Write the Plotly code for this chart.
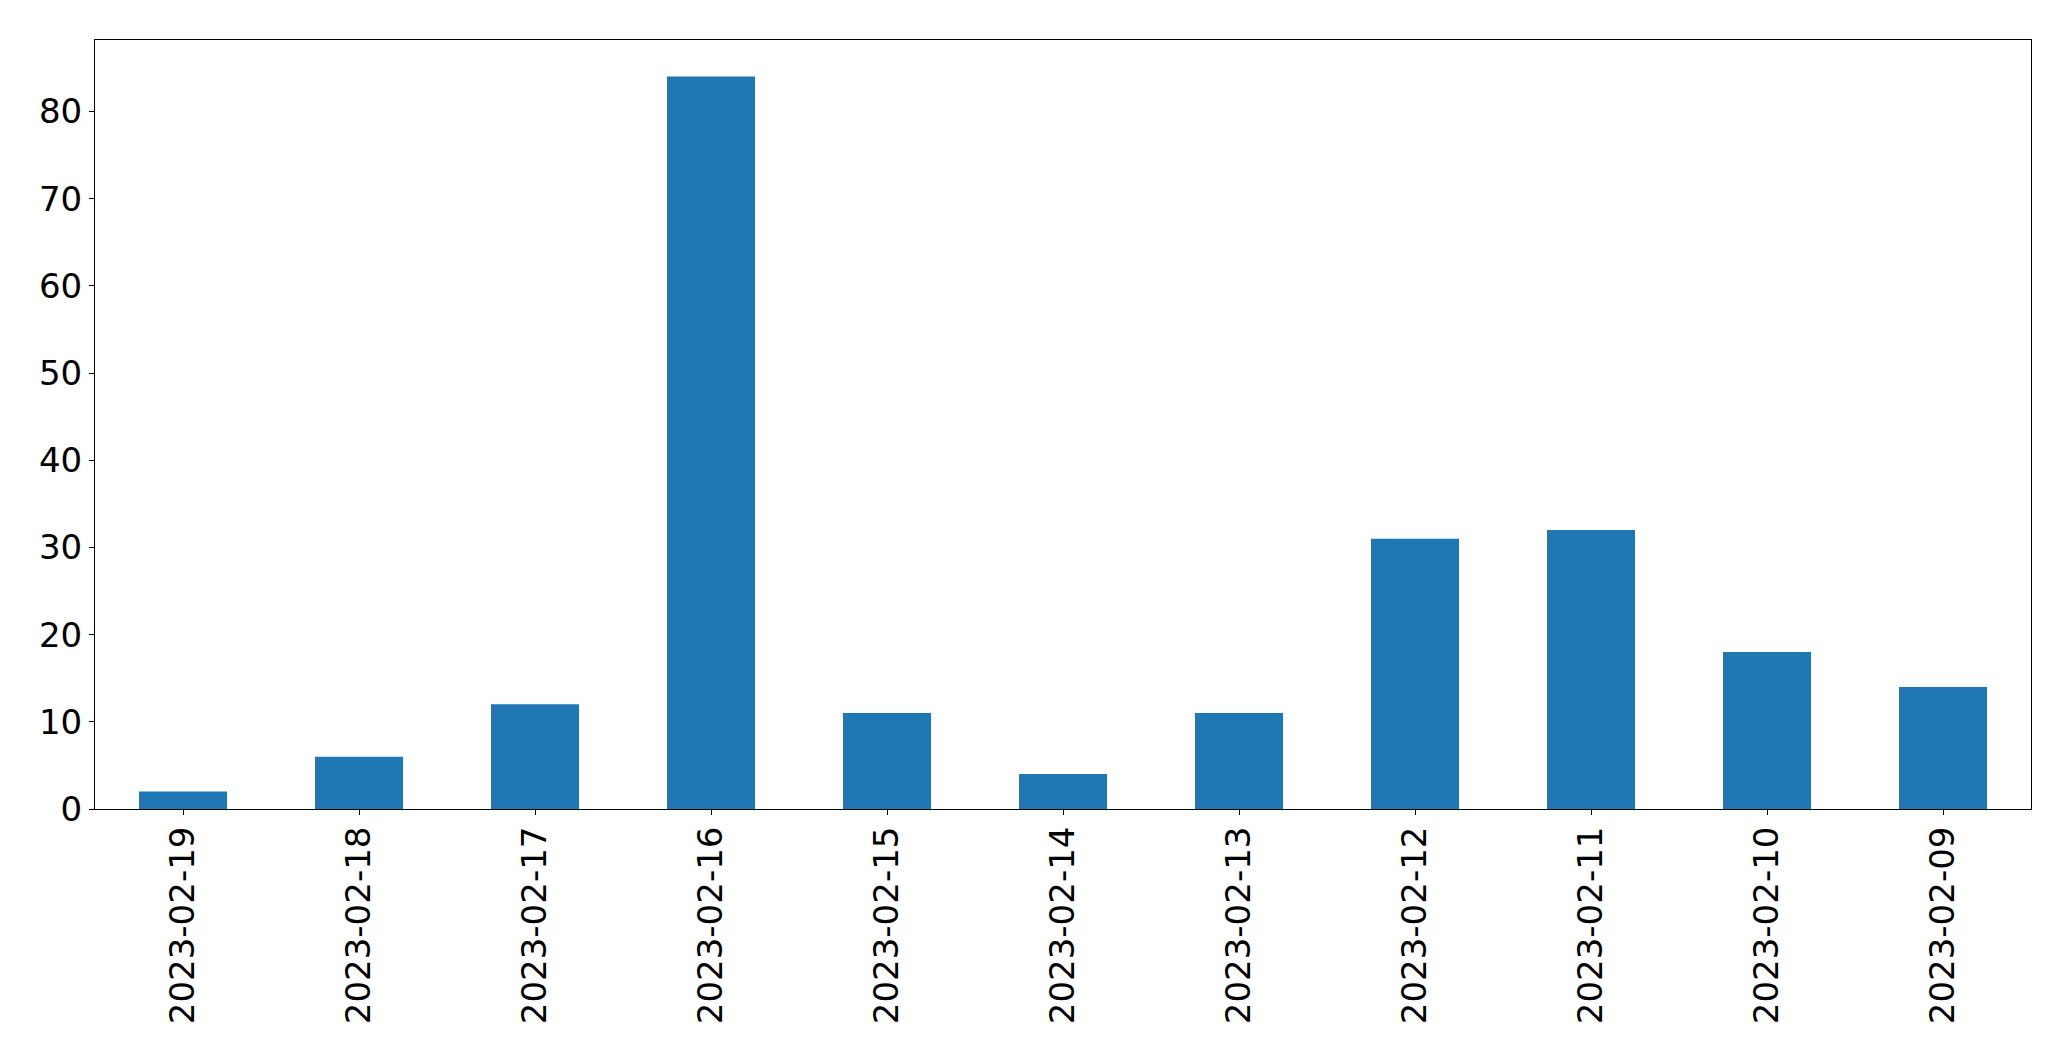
import plotly.graph_objects as go

dates = ["2023-02-19", "2023-02-18", "2023-02-17", "2023-02-16", "2023-02-15",
         "2023-02-14", "2023-02-13", "2023-02-12", "2023-02-11", "2023-02-10", "2023-02-09"]
counts = [2, 6, 12, 84, 11, 4, 11, 31, 32, 18, 14]
y_ticks = [0, 10, 20, 30, 40, 50, 60, 70, 80]

fig = go.Figure(go.Bar(x=dates, y=counts, marker=dict(color="#1f77b4", line=dict(width=0)), width=0.5))

fig.update_layout(
    width=2071, height=1061,
    margin=dict(l=94.5, r=39.5, t=39.5, b=252, autoexpand=False),
    paper_bgcolor="white", plot_bgcolor="white",
    font=dict(family="DejaVu Sans", size=34, color="black"),
    showlegend=False,
)
fig.update_xaxes(
    type="category", range=[-0.5, len(dates) - 0.5],
    showline=True, linecolor="black", linewidth=1, mirror=True,
    ticks="outside", ticklen=5, tickcolor="black", tickwidth=1,
    tickangle=-90, showgrid=False, zeroline=False, ticklabelstandoff=-2,
)
fig.update_yaxes(
    range=[0, 88.2], tickvals=y_ticks,
    showline=True, linecolor="black", linewidth=1, mirror=True,
    ticks="outside", ticklen=5, tickcolor="black", tickwidth=1,
    showgrid=False, zeroline=False, ticklabelstandoff=0,
)

fig.write_html("out.html", config={"displayModeBar": False},
               post_script="document.body.style.margin='0px';document.body.style.padding='0px';")
